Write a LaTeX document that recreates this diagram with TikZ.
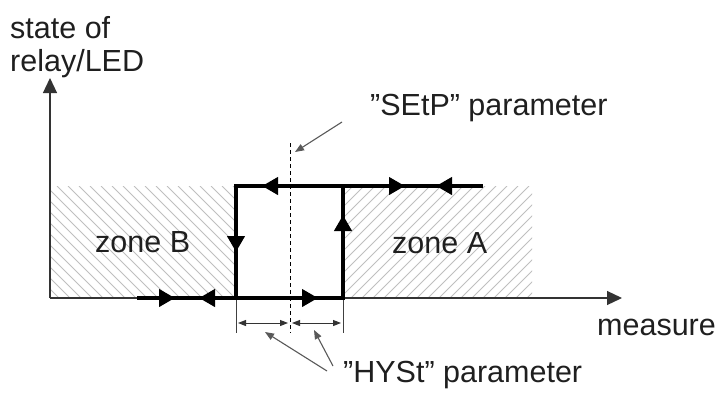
\documentclass[tikz,border=0pt]{standalone}
\usepackage{fontspec}
\setmainfont{Liberation Sans}
\usetikzlibrary{arrows.meta,decorations.markings}
\begin{document}
\begin{tikzpicture}[x=1pt,y=-1pt,
  lbl/.style={font=\fontsize{30.5}{34}\selectfont, inner sep=0pt, anchor=base west, text=black!88},
  axisline/.style={line width=1.2pt, draw=black!80, -{Triangle[length=15pt,width=14pt]}},
  hatchline/.style={line width=0.8pt, draw=black!25},
  heavy/.style={line width=4.5pt, line join=miter, postaction=decorate},
  thinline/.style={line width=1pt, draw=black!75},
  pointer/.style={line width=1.1pt, draw=black!65, -{Triangle[length=9pt,width=7pt]}},
  dimarrow/.style={line width=1pt, draw=black!80, {Triangle[length=8pt,width=6pt]}-{Triangle[length=8pt,width=6pt]}},
  tipH/.tip={Triangle[length=16pt,width=17pt]}]
\useasboundingbox (0,0) rectangle (715,394);

% hatched zones
\begin{scope}
  \clip (50,186) rectangle (236,298);
  \foreach \i in {-130,-119,...,250} \draw[hatchline] (\i,186) -- ++(112,112);
\end{scope}
\begin{scope}
  \clip (343,186) rectangle (532,298);
  \foreach \i in {230,241,...,540} \draw[hatchline] (\i,298) -- ++(112,-112);
\end{scope}

% axes
\coordinate (O) at (50,298);
\coordinate (ytip) at (50,78);
\coordinate (xtip) at (622,298);
\draw[axisline] (O) -- (ytip);
\draw[axisline] (O) -- (xtip);

% labels
\node[lbl] (ylab1) at (10,38) {state of};
\node[lbl] (ylab2) at (10,71) {relay/LED};
\node[lbl] (xlab) at (597,335) {measure};
\node[lbl] (zoneB) at (95,252) {zone B};
\node[lbl] (zoneA) at (392,253) {zone A};
\node[lbl] (setp) at (370,115) {”SEtP” parameter};
\node[lbl] (hyst) at (343,382) {”HYSt” parameter};

% set point dashed line
\coordinate (d1) at (290,143);
\coordinate (d2) at (290,333);
\draw[line width=1pt, dash pattern=on 4pt off 3pt] (d1) -- (d2);

% pointer to setpoint
\coordinate (sp1) at (342,122);
\coordinate (sp2) at (295,152);
\draw[pointer] (sp1) -- (sp2);

% hysteresis dimension
\coordinate (L0) at (236,298);
\coordinate (L1) at (236,333);
\coordinate (R0) at (343,298);
\coordinate (R1) at (343,333);
\draw[thinline] (L0) -- (L1);
\draw[thinline] (R0) -- (R1);
\coordinate (da) at (238,323);
\coordinate (db) at (288,323);
\coordinate (dc) at (292,323);
\coordinate (dd) at (341,323);
\draw[dimarrow] (da) -- (db);
\draw[dimarrow] (dc) -- (dd);

\coordinate (h1) at (327,371);
\coordinate (h1t) at (265,332);
\coordinate (h2) at (333,366);
\coordinate (h2t) at (314,330);
\draw[pointer] (h1) -- (h1t);
\draw[pointer] (h2) -- (h2t);

% thick hysteresis loop
\coordinate (b0) at (137,298);
\coordinate (BL) at (236,298);
\coordinate (BR) at (343,298);
\coordinate (TR) at (343,186);
\coordinate (TL) at (236,186);
\coordinate (t1) at (483,186);
\draw[heavy, decoration={markings,
   mark=at position 38pt with {\arrow{tipH}},
   mark=at position 62pt with {\arrowreversed{tipH}},
   mark=at position 181pt with {\arrow{tipH}},
   mark=at position 289pt with {\arrow{tipH}}}]
   (b0) -- (BR) -- (TR);
\draw[heavy, decoration={markings,
   mark=at position 46pt with {\arrowreversed{tipH}},
   mark=at position 138pt with {\arrowreversed{tipH}},
   mark=at position 281pt with {\arrow{tipH}},
   mark=at position 312pt with {\arrowreversed{tipH}}}]
   (BL) -- (TL) -- (t1);
\end{tikzpicture}
\end{document}
